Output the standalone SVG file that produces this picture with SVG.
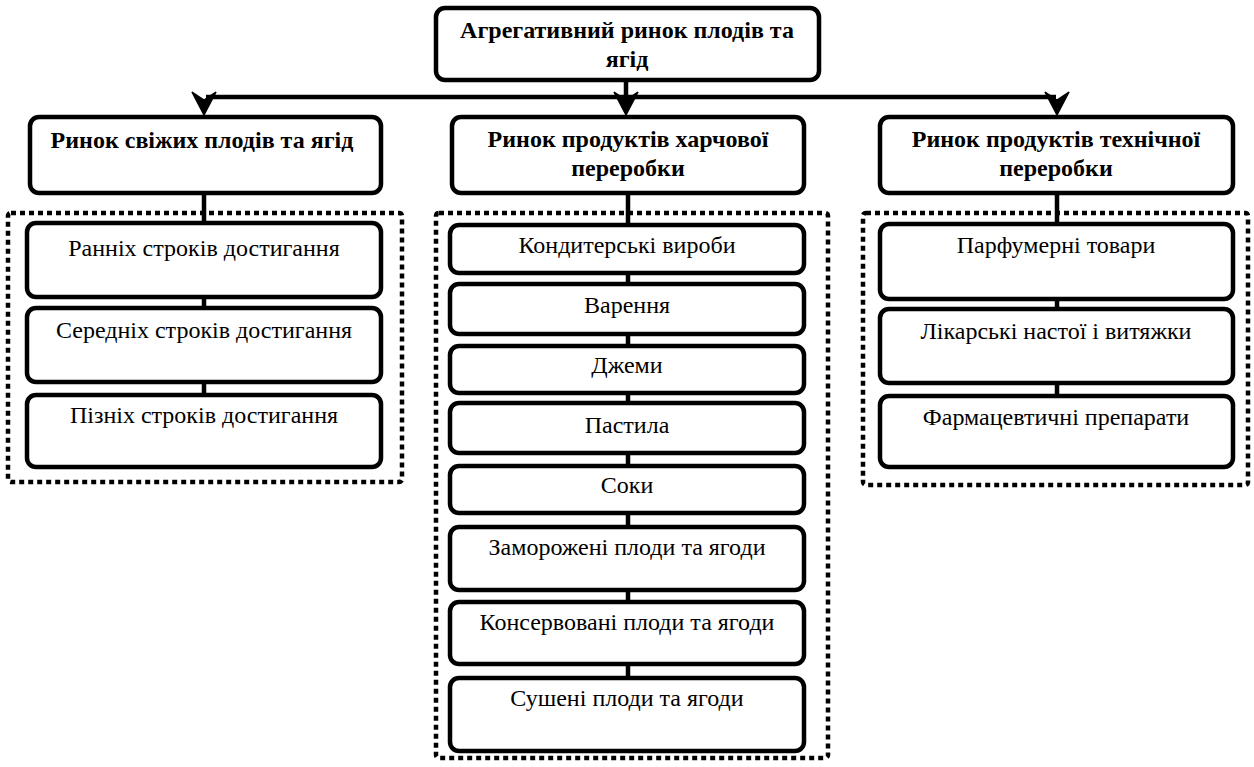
<svg xmlns="http://www.w3.org/2000/svg" width="1254" height="767" viewBox="0 0 1254 767">
<defs>
<style>
.box{fill:#fff;stroke:#000;stroke-width:4.5}
.dash{fill:none;stroke:#000;stroke-width:4.5;stroke-dasharray:5 4}
.ln{fill:none;stroke:#000;stroke-width:4.5}
.ah{fill:#000;stroke:#000;stroke-width:1.5;stroke-linejoin:miter}
.hd{font-family:"Liberation Serif","Times New Roman","DejaVu Serif",serif;font-weight:bold;font-size:24px;text-anchor:middle;fill:#000}
.lf{font-family:"Liberation Serif","Times New Roman","DejaVu Serif",serif;font-size:24px;text-anchor:middle;fill:#000}
</style>
</defs>
<rect width="1254" height="767" fill="#fff"/>
<g id="containers">
<rect class="dash" x="8" y="213" width="394" height="269" rx="3"/>
<rect class="dash" x="436" y="213" width="392" height="545" rx="3"/>
<rect class="dash" x="863" y="213" width="385" height="272" rx="3"/>
</g>
<g id="connectors">
<path class="ln" d="M626 80V97M206 97H1056"/>
<path class="ah" d="M192 92L204 115L216 92L204 100Z"/>
<path class="ah" d="M614 92L626 115L638 92L626 100Z"/>
<path class="ah" d="M1045 92L1057 115L1069 92L1057 100Z"/>
<path class="ln" d="M204 193V467M628 193V751M1057 193V467"/>
</g>
<g id="n-top">
<rect class="box" x="436" y="8" width="383" height="72" rx="9"/>
<text class="hd" x="627" y="38">Агрегативний ринок плодів та</text>
<text class="hd" x="627" y="67">ягід</text>
</g>
<g id="n-fresh">
<rect class="box" x="30" y="117" width="351" height="76" rx="9"/>
<text class="hd" x="202" y="148">Ринок свіжих плодів та ягід</text>
</g>
<g id="n-food">
<rect class="box" x="452" y="117" width="352" height="76" rx="9"/>
<text class="hd" x="628" y="147">Ринок продуктів харчової</text>
<text class="hd" x="628" y="176">переробки</text>
</g>
<g id="n-tech">
<rect class="box" x="880" y="117" width="353" height="76" rx="9"/>
<text class="hd" x="1056" y="147">Ринок продуктів технічної</text>
<text class="hd" x="1056" y="176">переробки</text>
</g>
<g id="n-early">
<rect class="box" x="27" y="223" width="354" height="74" rx="9"/>
<text class="lf" x="204" y="256">Ранніх строків достигання</text>
</g>
<g id="n-mid">
<rect class="box" x="27" y="308" width="354" height="74" rx="9"/>
<text class="lf" x="204" y="338">Середніх строків достигання</text>
</g>
<g id="n-late">
<rect class="box" x="27" y="395" width="354" height="72" rx="9"/>
<text class="lf" x="204" y="423">Пізніх строків достигання</text>
</g>
<g id="n-confect">
<rect class="box" x="450" y="225" width="354" height="48" rx="9"/>
<text class="lf" x="627" y="253">Кондитерські вироби</text>
</g>
<g id="n-jam1">
<rect class="box" x="450" y="284" width="354" height="50" rx="9"/>
<text class="lf" x="627" y="313">Варення</text>
</g>
<g id="n-jam2">
<rect class="box" x="450" y="346" width="354" height="47" rx="9"/>
<text class="lf" x="627" y="373">Джеми</text>
</g>
<g id="n-pastila">
<rect class="box" x="450" y="403" width="354" height="50" rx="9"/>
<text class="lf" x="627" y="433">Пастила</text>
</g>
<g id="n-juice">
<rect class="box" x="450" y="466" width="354" height="47" rx="9"/>
<text class="lf" x="627" y="493">Соки</text>
</g>
<g id="n-frozen">
<rect class="box" x="450" y="527" width="354" height="63" rx="9"/>
<text class="lf" x="627" y="555">Заморожені плоди та ягоди</text>
</g>
<g id="n-canned">
<rect class="box" x="450" y="602" width="354" height="62" rx="9"/>
<text class="lf" x="627" y="630">Консервовані плоди та ягоди</text>
</g>
<g id="n-dried">
<rect class="box" x="450" y="678" width="354" height="73" rx="9"/>
<text class="lf" x="627" y="706">Сушені плоди та ягоди</text>
</g>
<g id="n-perfume">
<rect class="box" x="880" y="224" width="353" height="75" rx="9"/>
<text class="lf" x="1056" y="253">Парфумерні товари</text>
</g>
<g id="n-medic">
<rect class="box" x="880" y="309" width="353" height="74" rx="9"/>
<text class="lf" x="1056" y="339">Лікарські настої і витяжки</text>
</g>
<g id="n-pharma">
<rect class="box" x="880" y="396" width="353" height="71" rx="9"/>
<text class="lf" x="1056" y="425">Фармацевтичні препарати</text>
</g>
</svg>
